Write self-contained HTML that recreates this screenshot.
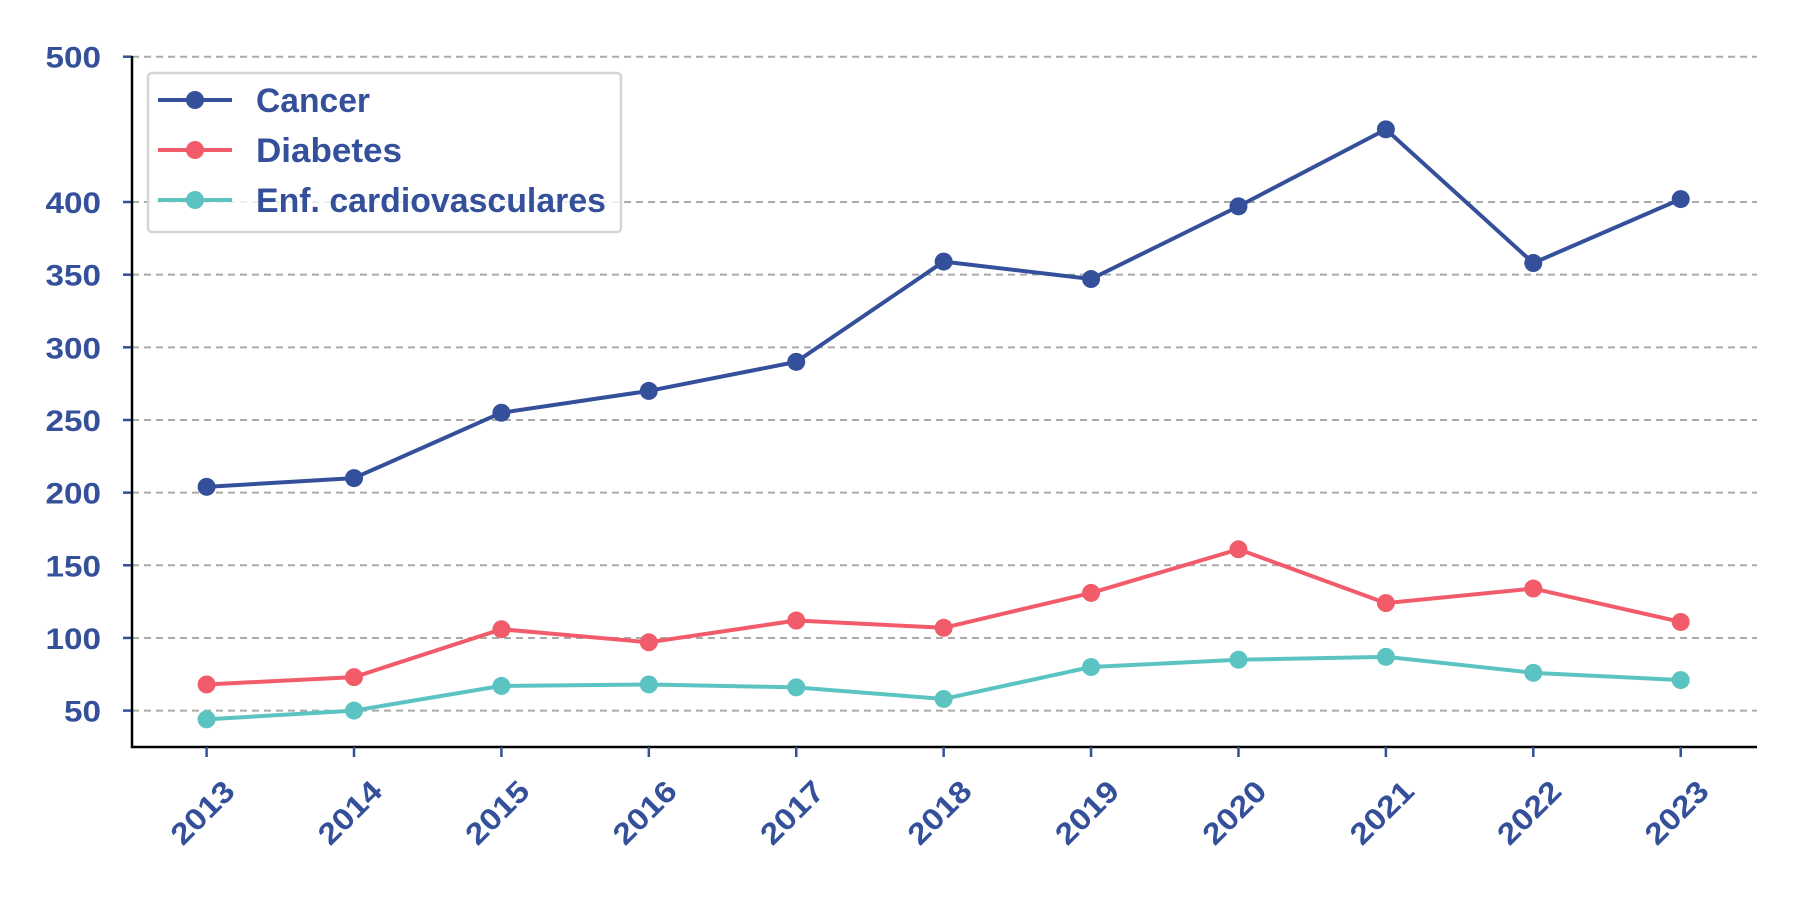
<!DOCTYPE html>
<html><head><meta charset="utf-8"><style>
body{margin:0;background:#fff;}
svg text{font-family:"Liberation Sans","DejaVu Sans",sans-serif;font-weight:bold;fill:#34509a;}
</style></head><body>
<svg id="chart" width="1800" height="900" xmlns="http://www.w3.org/2000/svg"></svg>
<script>
const years = ["2013","2014","2015","2016","2017","2018","2019","2020","2021","2022","2023"];
const cancer = [204,210,255,270,290,359,347,397,450,358,402];
const diabetes = [68,73,106,97,112,107,131,161,124,134,111];
const cardio = [44,50,67,68,66,58,80,85,87,76,71];
const yTicks = [50,100,150,200,250,300,350,400,500];
const seriesNames = ["Cancer","Diabetes","Enf. cardiovasculares"];
const colors = ["#34509a","#f25c6a","#5bc4c2"];
const legendTextLen = [114,146,350];

const svg = document.getElementById('chart');
const NS = "http://www.w3.org/2000/svg";
const L=132, R=1757, B=747;
function xs(i){return 206.6 + i*(1680.7-206.6)/(years.length-1);}
function ys(v){return 710.6 - (v-50)*(710.6-56.7)/450;}
function el(tag, attrs, parent){const e=document.createElementNS(NS,tag);for(const k in attrs)e.setAttribute(k,attrs[k]);(parent||svg).appendChild(e);return e;}

yTicks.forEach(t=>{
  const g=el('line',{x1:L,x2:R,y1:ys(t),y2:ys(t),stroke:'#aaa','stroke-width':2,'stroke-dasharray':'7,5'});
  
  
  const tk=el('line',{x1:L-9,x2:L,y1:ys(t),y2:ys(t),stroke:'#34509a','stroke-width':2.5});
  
  
  const s=String(t);
  const tx=el('text',{x:L-31,y:ys(t)+11,'text-anchor':'end','font-size':30,textLength:18.5*s.length,lengthAdjust:'spacingAndGlyphs'});
  tx.textContent=s;
  
  
});
const ax=el('path',{d:`M${L},56 L${L},${B} L${R},${B}`,fill:'none',stroke:'#000','stroke-width':2.5});


years.forEach((y,i)=>{
  const tk=el('line',{x1:xs(i),x2:xs(i),y1:B,y2:B+10,stroke:'#34509a','stroke-width':2.5});
  
  
  const tx=el('text',{x:0,y:0,'text-anchor':'end','font-size':30,textLength:76,lengthAdjust:'spacingAndGlyphs',transform:`translate(${xs(i)+30},${B+46}) rotate(-45)`});
  tx.textContent=y;
  
  
});
[cancer,diabetes,cardio].forEach((s,si)=>{
  const p=el('polyline',{points:s.map((v,i)=>xs(i)+','+ys(v)).join(' '),fill:'none',stroke:colors[si],'stroke-width':4,'stroke-linejoin':'round'});
  
  
  s.forEach((v,i)=>{
    const c=el('circle',{cx:xs(i),cy:ys(v),r:9,fill:colors[si]});
    
    
  });
});
const lg=el('g',{});


el('rect',{x:148,y:73,width:473,height:159,rx:4,fill:'#fff','fill-opacity':0.8,stroke:'#d5d5d5','stroke-width':2.5},lg);
seriesNames.forEach((n,i)=>{
  const yy=100+i*50;
  el('line',{x1:158,x2:232,y1:yy,y2:yy,stroke:colors[i],'stroke-width':4},lg);
  el('circle',{cx:195,cy:yy,r:9,fill:colors[i]},lg);
  const t=el('text',{x:256,y:yy+12,'font-size':34,textLength:legendTextLen[i],lengthAdjust:'spacingAndGlyphs'},lg);
  t.textContent=n;
  
  
});
</script>
</body></html>
